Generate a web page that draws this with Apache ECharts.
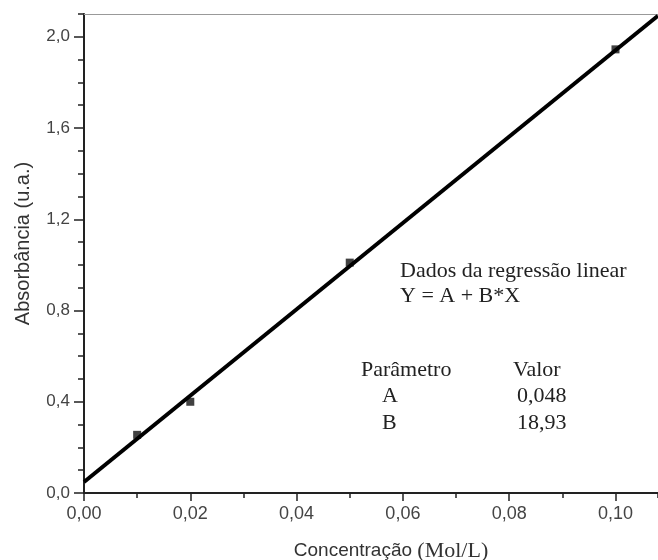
<!DOCTYPE html>
<html lang="pt">
<head>
<meta charset="UTF-8">
<title>Absorbância x Concentração</title>
<script src="https://cdn.jsdelivr.net/npm/echarts@6/dist/echarts.min.js"></script>
<style>
  html, body { margin: 0; padding: 0; background: #fff; }
  #chart { width: 658px; height: 560px; }
</style>
</head>
<body>
<div id="chart"></div>
<script>
// pontos medidos
var concentracao = [0.01, 0.02, 0.05, 0.10];
var absorbancia = [0.255, 0.40, 1.01, 1.945];

// parametros da regressao linear Y = A + B*X
var parametroA = 0.048;
var parametroB = 18.93;
var retaX = [0, 0.108];

// marcas dos eixos
var xMaiores = [0, 0.02, 0.04, 0.06, 0.08, 0.10];
var yMaiores = [0, 0.4, 0.8, 1.2, 1.6, 2.0];

var pontos = concentracao.map(function (x, i) { return [x, absorbancia[i]]; });
var reta = retaX.map(function (x) { return [x, parametroA + parametroB * x]; });

function virgula(v, casas) {
  return v.toFixed(casas).replace('.', ',');
}

var chart = echarts.init(document.getElementById('chart'));
var corEixo = '#222';
var corTexto = '#444';
var serif = '"Liberation Serif", "Times New Roman", serif';
var sans = '"Liberation Sans", Arial, sans-serif';

function texto(t, x, y) {
  return {
    type: 'text', left: x, top: y,
    style: { text: t, font: '22px ' + serif, fill: '#222' }
  };
}

chart.setOption({
  animation: false,
  grid: { left: 84, right: 0, top: 14, bottom: 67, outerBoundsMode: 'none', containLabel: false },
  xAxis: [{
    type: 'value', min: 0, max: 0.108, interval: 0.01,
    name: '{a|Concentração }{b|(Mol/L)}',
    nameLocation: 'middle', nameGap: 47,
    nameTextStyle: {
      padding: [0, 0, 0, 40],
      rich: {
        a: { fontFamily: sans, fontSize: 19, color: '#333' },
        b: { fontFamily: serif, fontSize: 22, color: '#333' }
      }
    },
    splitLine: { show: false },
    axisLine: { show: true, onZero: false, lineStyle: { color: corEixo, width: 2 } },
    axisTick: { show: true, length: 5, lineStyle: { color: corEixo, width: 1.5 } },
    axisLabel: {
      customValues: xMaiores, margin: 12, fontFamily: sans, fontSize: 18, color: corTexto,
      formatter: function (v) { return virgula(v, 2); }
    }
  }, {
    type: 'value', min: 0, max: 0.108, position: 'bottom',
    splitLine: { show: false },
    axisLine: { show: false },
    axisTick: { show: true, length: 8, customValues: xMaiores, lineStyle: { color: corEixo, width: 1.5 } },
    axisLabel: { show: false }
  }, {
    type: 'value', min: 0, max: 0.108, position: 'top',
    splitLine: { show: false },
    axisLine: { show: true, onZero: false, lineStyle: { color: '#999', width: 1 } },
    axisTick: { show: false },
    axisLabel: { show: false }
  }],
  yAxis: [{
    type: 'value', min: 0, max: 2.1, interval: 0.1,
    name: 'Absorbância (u.a.)',
    nameLocation: 'middle', nameGap: 51,
    nameTextStyle: { fontFamily: sans, fontSize: 20, color: '#333', padding: [0, 0, 0, 20] },
    splitLine: { show: false },
    axisLine: { show: true, onZero: false, lineStyle: { color: corEixo, width: 2 } },
    axisTick: { show: true, length: 6, lineStyle: { color: corEixo, width: 1.5 } },
    axisLabel: {
      customValues: yMaiores, margin: 14, fontFamily: sans, fontSize: 17, color: corTexto,
      formatter: function (v) { return virgula(v, 1); }
    }
  }, {
    type: 'value', min: 0, max: 2.1, position: 'left',
    splitLine: { show: false },
    axisLine: { show: false },
    axisTick: { show: true, length: 10, customValues: yMaiores, lineStyle: { color: corEixo, width: 1.5 } },
    axisLabel: { show: false }
  }],
  series: [{
    type: 'scatter', data: pontos, symbol: 'rect', symbolSize: 8,
    itemStyle: { color: '#111' }, z: 2
  }, {
    type: 'line', data: reta, showSymbol: false, symbol: 'none',
    lineStyle: { color: '#000', width: 4 }, z: 3
  }],
  graphic: [
    texto('Dados da regressão linear', 400, 260),
    texto('Y = A + B*X', 400, 285),
    texto('Parâmetro', 361, 359),
    texto('Valor', 513, 359),
    texto('A', 382, 385),
    texto('0,048', 517, 385),
    texto('B', 382, 412),
    texto('18,93', 517, 412)
  ]
});
</script>
</body>
</html>
